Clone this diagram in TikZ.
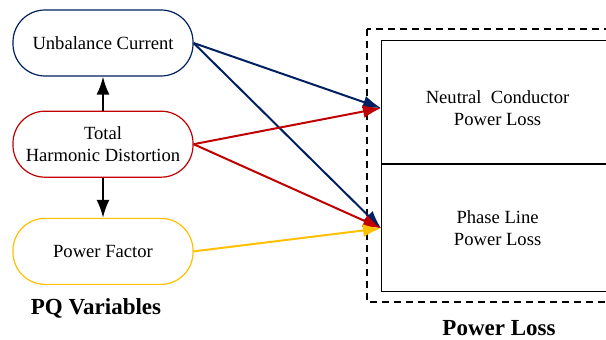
\documentclass[tikz,border=0pt]{standalone}
\usepackage{fontspec}
\setmainfont{Liberation Serif}
\usetikzlibrary{arrows.meta,positioning}
\definecolor{ucblue}{RGB}{0,32,96}
\definecolor{thdred}{RGB}{192,0,0}
\definecolor{pfyellow}{RGB}{255,192,0}

\begin{document}
\begin{tikzpicture}[x=0.5pt, y=-0.5pt, node distance=17pt, >={Latex[length=9pt,width=6.5pt]},
             font=\fontsize{9.3}{11}\selectfont,
                pq/.style = {draw, line width=0.6pt, rounded corners=16pt, minimum width=90pt, minimum height=33pt, align=center},
          lossbox/.style = {draw, line width=0.6pt, rectangle, minimum width=116pt, align=center, anchor=north west},
             link/.style = {->, line width=1pt},
            title/.style = {font=\fontsize{11.5}{13}\selectfont\bfseries},
]
\useasboundingbox (0,0) rectangle (606,340);
\clip (0,0) rectangle (606,340);
\node [pq, draw=ucblue]                  (unbal)  at (103,43) {Unbalance Current};
\node [pq, draw=thdred, below=of unbal]  (thd)    {Total\\Harmonic Distortion};
\node [pq, draw=pfyellow, below=20pt of thd] (pf) {Power Factor};
\node [title] (pqtitle) at (96,308) {PQ Variables};
%% power loss side
\draw [dashed, dash pattern=on 3.5pt off 2.5pt, line width=0.8pt] (367,29) rectangle (630,302);
\node [lossbox, minimum height=61.5pt,
       label={[align=center, yshift=-3pt]center:Neutral\ \ Conductor\\Power Loss}] (neutral) at (381,40) {};
\node [lossbox, minimum height=63.5pt]  (phase)   at (neutral.south west) {Phase Line\\Power Loss};
\node [title] (losstitle) at (499,328) {Power Loss};
%% paths
\path[draw,link] (thd) edge (unbal)
                 (thd) edge (pf)
                 ;
\draw [link, ucblue]   (unbal.east) -- ([yshift=-3pt]neutral.west);
\draw [link, ucblue]   (unbal.east) -- (phase.west);
\draw [link, thdred]   (thd.east)   -- ([yshift=-3pt]neutral.west);
\draw [link, thdred]   (thd.east)   -- (phase.west);
\draw [link, pfyellow] (pf.east)    -- (phase.west);
\end{tikzpicture}
\end{document}
